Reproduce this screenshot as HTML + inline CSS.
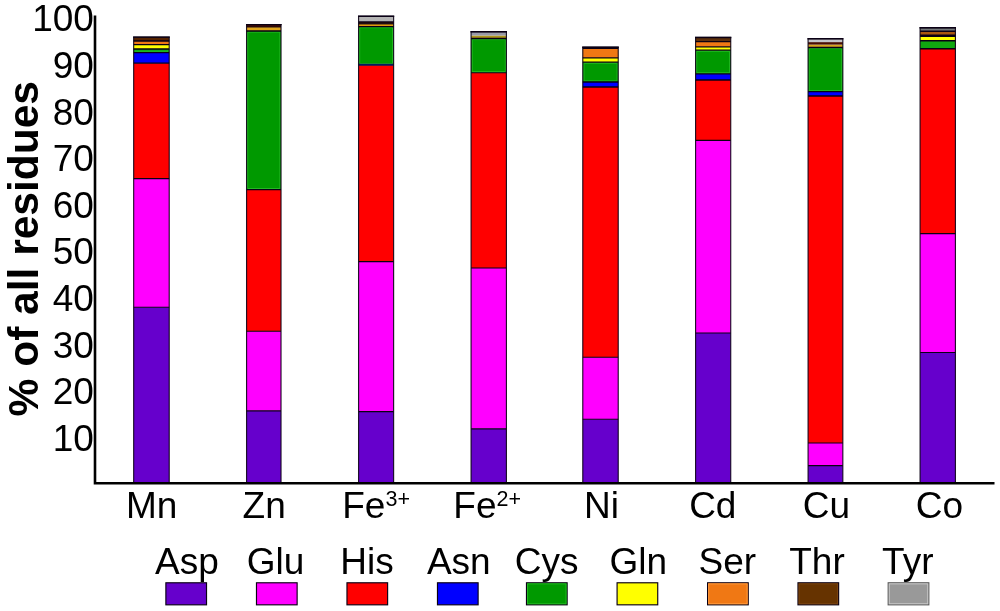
<!DOCTYPE html>
<html lang="en"><head><meta charset="utf-8"><title>Residue composition by metal</title>
<style>html,body{margin:0;padding:0;background:#fff}body{width:1000px;height:611px;overflow:hidden}svg{display:block;font-family:"Liberation Sans",Arial,Helvetica,sans-serif}</style></head>
<body>
<svg width="1000" height="611" viewBox="0 0 1000 611">
<rect width="1000" height="611" fill="#fff"/>
<g><rect x="133.67" y="307.20" width="35.55" height="176.00" fill="#6600CC"/><rect x="133.67" y="178.60" width="35.55" height="128.60" fill="#FF00FF"/><rect x="133.67" y="63.20" width="35.55" height="115.40" fill="#FF0000"/><rect x="133.67" y="52.70" width="35.55" height="10.50" fill="#0000FF"/><rect x="133.67" y="49.00" width="35.55" height="3.70" fill="#009900"/><rect x="133.67" y="44.70" width="35.55" height="4.30" fill="#FFFF00"/><rect x="133.67" y="41.00" width="35.55" height="3.70" fill="#F07814"/><rect x="133.67" y="37.10" width="35.55" height="3.90" fill="#552200"/><rect x="134.77" y="50.10" width="33.35" height="1.50" fill="none" stroke="#22b822" stroke-width="1"/><path d="M133.67 307.20h35.55" stroke="#0a0014" stroke-width="1.15"/><path d="M133.67 178.60h35.55" stroke="#0a0014" stroke-width="1.15"/><path d="M133.67 63.20h35.55" stroke="#0a0014" stroke-width="1.3"/><path d="M133.67 52.70h35.55" stroke="#0a0014" stroke-width="1.3"/><path d="M133.67 49.00h35.55" stroke="#0a0014" stroke-width="1.3"/><path d="M133.67 44.70h35.55" stroke="#0a0014" stroke-width="1.3"/><path d="M133.67 41.00h35.55" stroke="#0a0014" stroke-width="1.3"/><rect x="133.67" y="37.10" width="35.55" height="446.10" fill="none" stroke="#0a0014" stroke-width="1.15" stroke-opacity="0.9"/><path d="M133.10 37.10h36.70" stroke="#0a0014" stroke-width="1.45"/></g>
<g><rect x="246.57" y="410.80" width="34.45" height="72.40" fill="#6600CC"/><rect x="246.57" y="331.20" width="34.45" height="79.60" fill="#FF00FF"/><rect x="246.57" y="189.60" width="34.45" height="141.60" fill="#FF0000"/><rect x="246.57" y="31.00" width="34.45" height="158.60" fill="#009900"/><rect x="246.57" y="27.00" width="34.45" height="4.00" fill="#E0A41C"/><rect x="246.57" y="24.60" width="34.45" height="2.40" fill="#4a1000"/><rect x="247.67" y="32.10" width="32.25" height="156.40" fill="none" stroke="#22b822" stroke-width="1"/><path d="M246.57 410.80h34.45" stroke="#0a0014" stroke-width="1.15"/><path d="M246.57 331.20h34.45" stroke="#0a0014" stroke-width="1.15"/><path d="M246.57 189.60h34.45" stroke="#0a0014" stroke-width="1.15"/><path d="M246.57 31.00h34.45" stroke="#0a0014" stroke-width="1.3"/><path d="M246.57 27.00h34.45" stroke="#0a0014" stroke-width="0.9"/><rect x="246.57" y="24.60" width="34.45" height="458.60" fill="none" stroke="#0a0014" stroke-width="1.15" stroke-opacity="0.9"/><path d="M246.00 24.60h35.60" stroke="#0a0014" stroke-width="1.45"/></g>
<g><rect x="358.57" y="411.60" width="35.05" height="71.60" fill="#6600CC"/><rect x="358.57" y="261.60" width="35.05" height="150.00" fill="#FF00FF"/><rect x="358.57" y="64.70" width="35.05" height="196.90" fill="#FF0000"/><rect x="358.57" y="26.60" width="35.05" height="38.10" fill="#009900"/><rect x="358.57" y="23.90" width="35.05" height="2.70" fill="#E09A10"/><rect x="358.57" y="21.90" width="35.05" height="2.00" fill="#2a0a00"/><rect x="358.57" y="16.30" width="35.05" height="5.60" fill="#b4b4b4"/><rect x="359.68" y="27.70" width="32.85" height="35.90" fill="none" stroke="#22b822" stroke-width="1"/><path d="M358.57 411.60h35.05" stroke="#0a0014" stroke-width="1.15"/><path d="M358.57 261.60h35.05" stroke="#0a0014" stroke-width="1.15"/><path d="M358.57 64.70h35.05" stroke="#001c5e" stroke-width="2.0"/><path d="M358.57 26.60h35.05" stroke="#0a0014" stroke-width="1.3"/><path d="M358.57 23.90h35.05" stroke="#0a0014" stroke-width="1.0"/><path d="M358.57 21.90h35.05" stroke="#0a0014" stroke-width="1.4"/><rect x="358.57" y="16.30" width="35.05" height="466.90" fill="none" stroke="#0a0014" stroke-width="1.15" stroke-opacity="0.9"/><path d="M358.00 16.30h36.20" stroke="#0a0014" stroke-width="1.45"/></g>
<g><rect x="471.07" y="428.80" width="35.35" height="54.40" fill="#6600CC"/><rect x="471.07" y="268.00" width="35.35" height="160.80" fill="#FF00FF"/><rect x="471.07" y="72.70" width="35.35" height="195.30" fill="#FF0000"/><rect x="471.07" y="38.50" width="35.35" height="34.20" fill="#009900"/><rect x="471.07" y="35.50" width="35.35" height="3.00" fill="#B0961C"/><rect x="471.07" y="31.70" width="35.35" height="3.80" fill="#9a9aa8"/><rect x="472.18" y="39.60" width="33.15" height="32.00" fill="none" stroke="#22b822" stroke-width="1"/><path d="M471.07 428.80h35.35" stroke="#0a0014" stroke-width="1.15"/><path d="M471.07 268.00h35.35" stroke="#0a0014" stroke-width="1.15"/><path d="M471.07 72.70h35.35" stroke="#0a0014" stroke-width="1.15"/><path d="M471.07 38.50h35.35" stroke="#0a0014" stroke-width="1.3"/><rect x="471.07" y="31.70" width="35.35" height="451.50" fill="none" stroke="#0a0014" stroke-width="1.15" stroke-opacity="0.9"/><path d="M470.50 31.70h36.50" stroke="#0a0014" stroke-width="1.45"/></g>
<g><rect x="582.78" y="419.20" width="35.45" height="64.00" fill="#6600CC"/><rect x="582.78" y="357.20" width="35.45" height="62.00" fill="#FF00FF"/><rect x="582.78" y="87.00" width="35.45" height="270.20" fill="#FF0000"/><rect x="582.78" y="82.00" width="35.45" height="5.00" fill="#0000FF"/><rect x="582.78" y="62.20" width="35.45" height="19.80" fill="#009900"/><rect x="582.78" y="57.80" width="35.45" height="4.40" fill="#FFFF00"/><rect x="582.78" y="48.50" width="35.45" height="9.30" fill="#F07814"/><rect x="582.78" y="47.20" width="35.45" height="1.30" fill="#401000"/><rect x="583.88" y="63.30" width="33.25" height="17.60" fill="none" stroke="#22b822" stroke-width="1"/><path d="M582.78 419.20h35.45" stroke="#0a0014" stroke-width="1.15"/><path d="M582.78 357.20h35.45" stroke="#0a0014" stroke-width="1.15"/><path d="M582.78 87.00h35.45" stroke="#0a0014" stroke-width="1.3"/><path d="M582.78 82.00h35.45" stroke="#0a0014" stroke-width="1.3"/><path d="M582.78 62.20h35.45" stroke="#0a0014" stroke-width="1.3"/><path d="M582.78 57.80h35.45" stroke="#0a0014" stroke-width="1.3"/><path d="M582.78 48.50h35.45" stroke="#0a0014" stroke-width="1.0"/><rect x="582.78" y="47.20" width="35.45" height="436.00" fill="none" stroke="#0a0014" stroke-width="1.15" stroke-opacity="0.9"/><path d="M582.20 47.20h36.60" stroke="#0a0014" stroke-width="1.45"/></g>
<g><rect x="695.58" y="333.00" width="35.15" height="150.20" fill="#6600CC"/><rect x="695.58" y="140.40" width="35.15" height="192.60" fill="#FF00FF"/><rect x="695.58" y="80.00" width="35.15" height="60.40" fill="#FF0000"/><rect x="695.58" y="73.80" width="35.15" height="6.20" fill="#0000FF"/><rect x="695.58" y="50.20" width="35.15" height="23.60" fill="#009900"/><rect x="695.58" y="46.80" width="35.15" height="3.40" fill="#FFFF00"/><rect x="695.58" y="41.70" width="35.15" height="5.10" fill="#F07814"/><rect x="695.58" y="37.40" width="35.15" height="4.30" fill="#5e300c"/><rect x="696.68" y="51.30" width="32.95" height="21.40" fill="none" stroke="#22b822" stroke-width="1"/><path d="M695.58 333.00h35.15" stroke="#0a0014" stroke-width="1.15"/><path d="M695.58 140.40h35.15" stroke="#0a0014" stroke-width="1.15"/><path d="M695.58 80.00h35.15" stroke="#0a0014" stroke-width="1.3"/><path d="M695.58 73.80h35.15" stroke="#0a0014" stroke-width="1.3"/><path d="M695.58 50.20h35.15" stroke="#0a0014" stroke-width="1.3"/><path d="M695.58 46.80h35.15" stroke="#0a0014" stroke-width="1.3"/><path d="M695.58 41.70h35.15" stroke="#0a0014" stroke-width="1.3"/><rect x="695.58" y="37.40" width="35.15" height="445.80" fill="none" stroke="#0a0014" stroke-width="1.15" stroke-opacity="0.9"/><path d="M695.00 37.40h36.30" stroke="#0a0014" stroke-width="1.45"/></g>
<g><rect x="808.08" y="465.60" width="34.75" height="17.60" fill="#6600CC"/><rect x="808.08" y="443.00" width="34.75" height="22.60" fill="#FF00FF"/><rect x="808.08" y="96.00" width="34.75" height="347.00" fill="#FF0000"/><rect x="808.08" y="91.70" width="34.75" height="4.30" fill="#0000FF"/><rect x="808.08" y="47.50" width="34.75" height="44.20" fill="#009900"/><rect x="808.08" y="44.60" width="34.75" height="2.90" fill="#D8A61C"/><rect x="808.08" y="42.10" width="34.75" height="2.50" fill="#4a0c00"/><rect x="808.08" y="38.70" width="34.75" height="3.40" fill="#c4c4c8"/><rect x="809.18" y="48.60" width="32.55" height="42.00" fill="none" stroke="#22b822" stroke-width="1"/><path d="M808.08 465.60h34.75" stroke="#0a0014" stroke-width="1.15"/><path d="M808.08 443.00h34.75" stroke="#0a0014" stroke-width="1.15"/><path d="M808.08 96.00h34.75" stroke="#0a0014" stroke-width="1.3"/><path d="M808.08 91.70h34.75" stroke="#0a0014" stroke-width="1.3"/><path d="M808.08 47.50h34.75" stroke="#0a0014" stroke-width="1.3"/><rect x="808.08" y="38.70" width="34.75" height="444.50" fill="none" stroke="#0a0014" stroke-width="1.15" stroke-opacity="0.9"/><path d="M807.50 38.70h35.90" stroke="#0a0014" stroke-width="1.45"/></g>
<g><rect x="920.08" y="352.50" width="35.35" height="130.70" fill="#6600CC"/><rect x="920.08" y="233.60" width="35.35" height="118.90" fill="#FF00FF"/><rect x="920.08" y="48.80" width="35.35" height="184.80" fill="#FF0000"/><rect x="920.08" y="40.80" width="35.35" height="8.00" fill="#10a810"/><rect x="920.08" y="35.70" width="35.35" height="5.10" fill="#FFFF00"/><rect x="920.08" y="31.20" width="35.35" height="4.50" fill="#a8560f"/><rect x="920.08" y="27.70" width="35.35" height="3.50" fill="#74787a"/><path d="M920.08 352.50h35.35" stroke="#0a0014" stroke-width="1.15"/><path d="M920.08 233.60h35.35" stroke="#0a0014" stroke-width="1.15"/><path d="M920.08 48.80h35.35" stroke="#0a0014" stroke-width="1.6"/><path d="M920.08 40.80h35.35" stroke="#0a0014" stroke-width="1.6"/><path d="M920.08 35.70h35.35" stroke="#0a0014" stroke-width="2.5"/><path d="M920.08 31.20h35.35" stroke="#0a0014" stroke-width="1.6"/><rect x="920.08" y="27.70" width="35.35" height="455.50" fill="none" stroke="#0a0014" stroke-width="1.15" stroke-opacity="0.9"/><path d="M919.50 27.70h36.50" stroke="#0a0014" stroke-width="1.45"/></g>
<path d="M95 15.5 V483.2 H994.5" fill="none" stroke="#000" stroke-width="2.6" stroke-linejoin="miter"/>
<g font-size="37" text-anchor="end" fill="#000">
<text x="93.9" y="31.3">100</text>
<text x="93.9" y="77.9">90</text>
<text x="93.9" y="124.5">80</text>
<text x="93.9" y="171.1">70</text>
<text x="93.9" y="217.7">60</text>
<text x="93.9" y="264.3">50</text>
<text x="93.9" y="310.9">40</text>
<text x="93.9" y="357.5">30</text>
<text x="93.9" y="404.1">20</text>
<text x="93.9" y="450.7">10</text>
</g>
<g font-size="37" text-anchor="middle" fill="#000">
<text x="151.7" y="518.4">Mn</text>
<text x="264.2" y="518.4">Zn</text>
<text x="342.2" y="518.4" text-anchor="start">Fe<tspan x="385.6" y="506.1" font-size="21.5">3+</tspan></text>
<text x="453.3" y="518.4" text-anchor="start">Fe<tspan x="496.6" y="506.1" font-size="21.5">2+</tspan></text>
<text x="601.5" y="518.4">Ni</text>
<text x="712.8" y="518.4">Cd</text>
<text x="826.4" y="518.4">Cu</text>
<text x="939.4" y="518.4">Co</text>
</g>
<text transform="translate(37.6 416.4) rotate(-90)" font-size="42.5" font-weight="bold" fill="#000">% of all residues</text>
<g font-size="37" text-anchor="middle" fill="#000">
<text x="187" y="573.6">Asp</text>
<text x="275.5" y="573.6">Glu</text>
<text x="367.1" y="573.6">His</text>
<text x="458.8" y="573.6">Asn</text>
<text x="546.7" y="573.6">Cys</text>
<text x="638.2" y="573.6">Gln</text>
<text x="727.4" y="573.6">Ser</text>
<text x="817" y="573.6">Thr</text>
<text x="907.8" y="573.6">Tyr</text>
</g>
<rect x="165.88" y="582.78" width="40.65" height="22.05" fill="#6600CC" stroke="#0a0014" stroke-width="1.15"/>
<rect x="256.48" y="582.78" width="40.65" height="22.05" fill="#FF00FF" stroke="#0a0014" stroke-width="1.15"/>
<rect x="346.97" y="582.78" width="40.65" height="22.05" fill="#FF0000" stroke="#0a0014" stroke-width="1.15"/>
<rect x="437.47" y="582.78" width="40.65" height="22.05" fill="#0000FF" stroke="#0a0014" stroke-width="1.15"/>
<rect x="526.48" y="582.78" width="40.65" height="22.05" fill="#009900" stroke="#0a0014" stroke-width="1.15"/>
<rect x="527.55" y="583.85" width="38.50" height="19.90" fill="none" stroke="#22b822" stroke-width="1"/>
<rect x="617.08" y="582.78" width="40.65" height="22.05" fill="#FFFF00" stroke="#0a0014" stroke-width="1.15"/>
<rect x="707.58" y="582.78" width="40.65" height="22.05" fill="#F07814" stroke="#0a0014" stroke-width="1.15"/>
<rect x="708.65" y="583.85" width="38.50" height="19.90" fill="none" stroke="#ff9a3c" stroke-width="1"/>
<rect x="797.98" y="582.78" width="40.65" height="22.05" fill="#663300" stroke="#0a0014" stroke-width="1.15"/>
<rect x="799.05" y="583.85" width="38.50" height="19.90" fill="none" stroke="#7a4410" stroke-width="1"/>
<rect x="888.18" y="582.78" width="40.65" height="22.05" fill="#999999" stroke="#5a5a5a" stroke-width="1.15"/>
<rect x="889.25" y="583.85" width="38.50" height="19.90" fill="none" stroke="#c8c8c8" stroke-width="1"/>
</svg>
</body></html>
